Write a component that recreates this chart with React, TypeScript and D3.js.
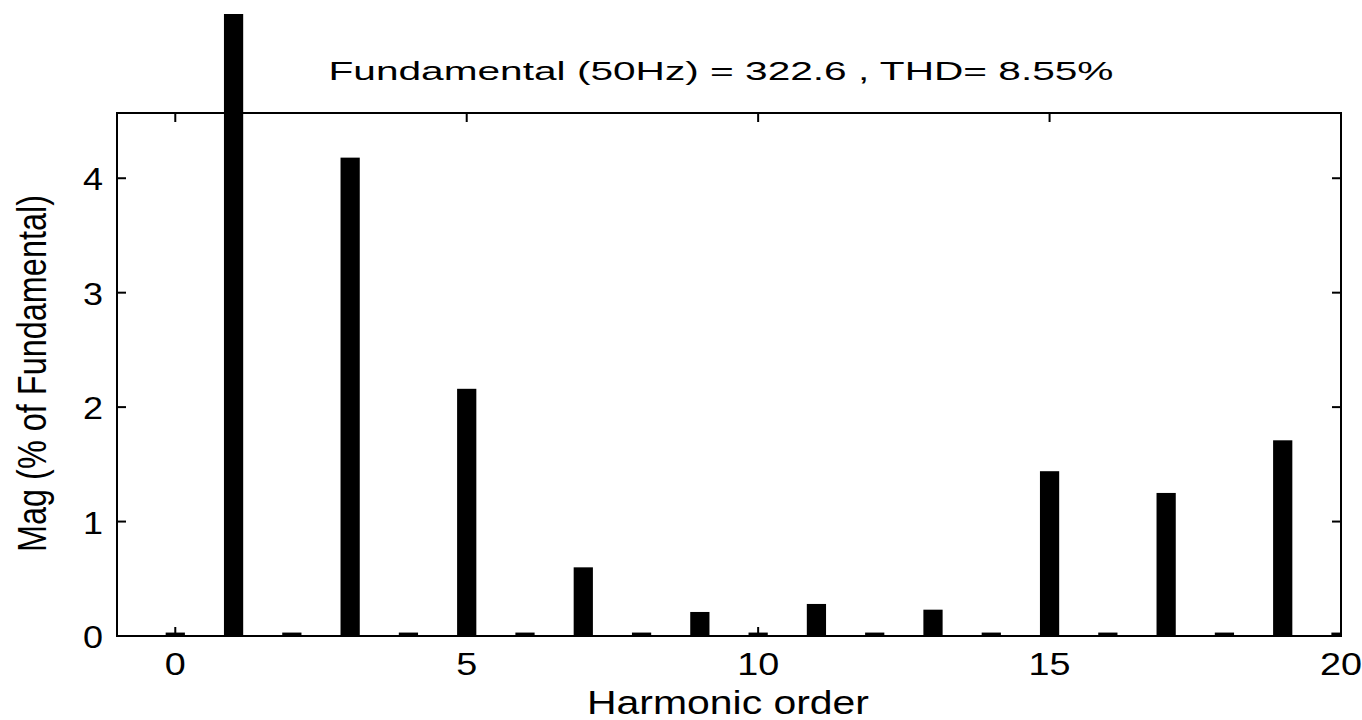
import { useEffect, useRef } from "react";
import * as d3 from "d3";

// harmonic orders and magnitudes (% of fundamental)
const harmonics = [0, 1, 2, 3, 4, 5, 6, 7, 8, 9, 10, 11, 12, 13, 14, 15, 16, 17, 18, 19, 20];
const magnitudes = [0.03, 100, 0.03, 4.18, 0.03, 2.16, 0.03, 0.6, 0.03, 0.21, 0.03, 0.28, 0.03, 0.23, 0.03, 1.44, 0.03, 1.25, 0.03, 1.71, 0.03];
const xTicks = [0, 5, 10, 15, 20];
const yTicks = [0, 1, 2, 3, 4];
const title = "Fundamental (50Hz) = 322.6 , THD= 8.55%";

const App = () => {
  const svgRef = useRef<SVGSVGElement | null>(null);

  useEffect(() => {
    const W = 1362;
    const H = 720;
    const left = 117;
    const right = 1341;
    const top = 113;
    const bottom = 636;
    const font = "'Liberation Sans', Arial, sans-serif";

    const svg = d3.select(svgRef.current).attr("width", W).attr("height", H);
    svg.selectAll("*").remove();

    const x = d3.scaleLinear().domain([-1, 20]).range([left, right]);
    const y = d3.scaleLinear().domain([0, 4.57]).range([bottom, top]);
    const barW = x(0.33) - x(0);

    svg
      .append("defs")
      .append("clipPath")
      .attr("id", "plotclip")
      .append("rect")
      .attr("x", left)
      .attr("y", 14)
      .attr("width", right - left)
      .attr("height", bottom - 14);

    // bars
    svg
      .append("g")
      .attr("clip-path", "url(#plotclip)")
      .selectAll("rect")
      .data(harmonics)
      .enter()
      .append("rect")
      .attr("x", (d) => x(d) - barW / 2)
      .attr("width", barW)
      .attr("y", (d, i) => y(magnitudes[i]))
      .attr("height", (d, i) => bottom - y(magnitudes[i]))
      .attr("fill", "#000");

    // axes box
    svg
      .append("rect")
      .attr("x", left)
      .attr("y", top)
      .attr("width", right - left)
      .attr("height", bottom - top)
      .attr("fill", "none")
      .attr("stroke", "#000")
      .attr("stroke-width", 2);

    const tickLen = 9;
    const ticks = svg.append("g").attr("stroke", "#000").attr("stroke-width", 2);
    xTicks.forEach((t) => {
      ticks.append("line").attr("x1", x(t)).attr("x2", x(t)).attr("y1", bottom).attr("y2", bottom - tickLen);
      ticks.append("line").attr("x1", x(t)).attr("x2", x(t)).attr("y1", top).attr("y2", top + tickLen);
    });
    yTicks.forEach((t) => {
      ticks.append("line").attr("x1", left).attr("x2", left + tickLen).attr("y1", y(t)).attr("y2", y(t));
      ticks.append("line").attr("x1", right).attr("x2", right - tickLen).attr("y1", y(t)).attr("y2", y(t));
    });

    // tick labels (the original is stretched sideways, so widths are set)
    svg
      .append("g")
      .selectAll("text")
      .data(xTicks)
      .enter()
      .append("text")
      .attr("x", (d) => x(d))
      .attr("y", 675)
      .attr("text-anchor", "middle")
      .attr("textLength", (d) => String(d).length * 21)
      .attr("lengthAdjust", "spacingAndGlyphs")
      .style("font-family", font)
      .style("font-size", "32px")
      .text((d) => d);

    svg
      .append("g")
      .selectAll("text")
      .data(yTicks)
      .enter()
      .append("text")
      .attr("x", 103)
      .attr("y", (d) => y(d) + 12)
      .attr("text-anchor", "end")
      .attr("textLength", 20)
      .attr("lengthAdjust", "spacingAndGlyphs")
      .style("font-family", font)
      .style("font-size", "32px")
      .text((d) => d);

    // title and axis labels
    svg
      .append("text")
      .attr("x", 721)
      .attr("y", 80)
      .attr("text-anchor", "middle")
      .attr("textLength", 785)
      .attr("lengthAdjust", "spacingAndGlyphs")
      .style("font-family", font)
      .style("font-size", "26px")
      .text(title);

    svg
      .append("text")
      .attr("x", 728)
      .attr("y", 714)
      .attr("text-anchor", "middle")
      .attr("textLength", 282)
      .attr("lengthAdjust", "spacingAndGlyphs")
      .style("font-family", font)
      .style("font-size", "33px")
      .text("Harmonic order");

    svg
      .append("text")
      .attr("transform", `translate(46,${(195 + 552) / 2}) rotate(-90)`)
      .attr("text-anchor", "middle")
      .attr("textLength", 357)
      .attr("lengthAdjust", "spacingAndGlyphs")
      .style("font-family", font)
      .style("font-size", "40px")
      .text("Mag (% of Fundamental)");
  }, []);

  return (
    <div style={{ position: "absolute", left: 0, top: 0, background: "#fff" }}>
      <svg ref={svgRef}></svg>
    </div>
  );
};

export default App;
